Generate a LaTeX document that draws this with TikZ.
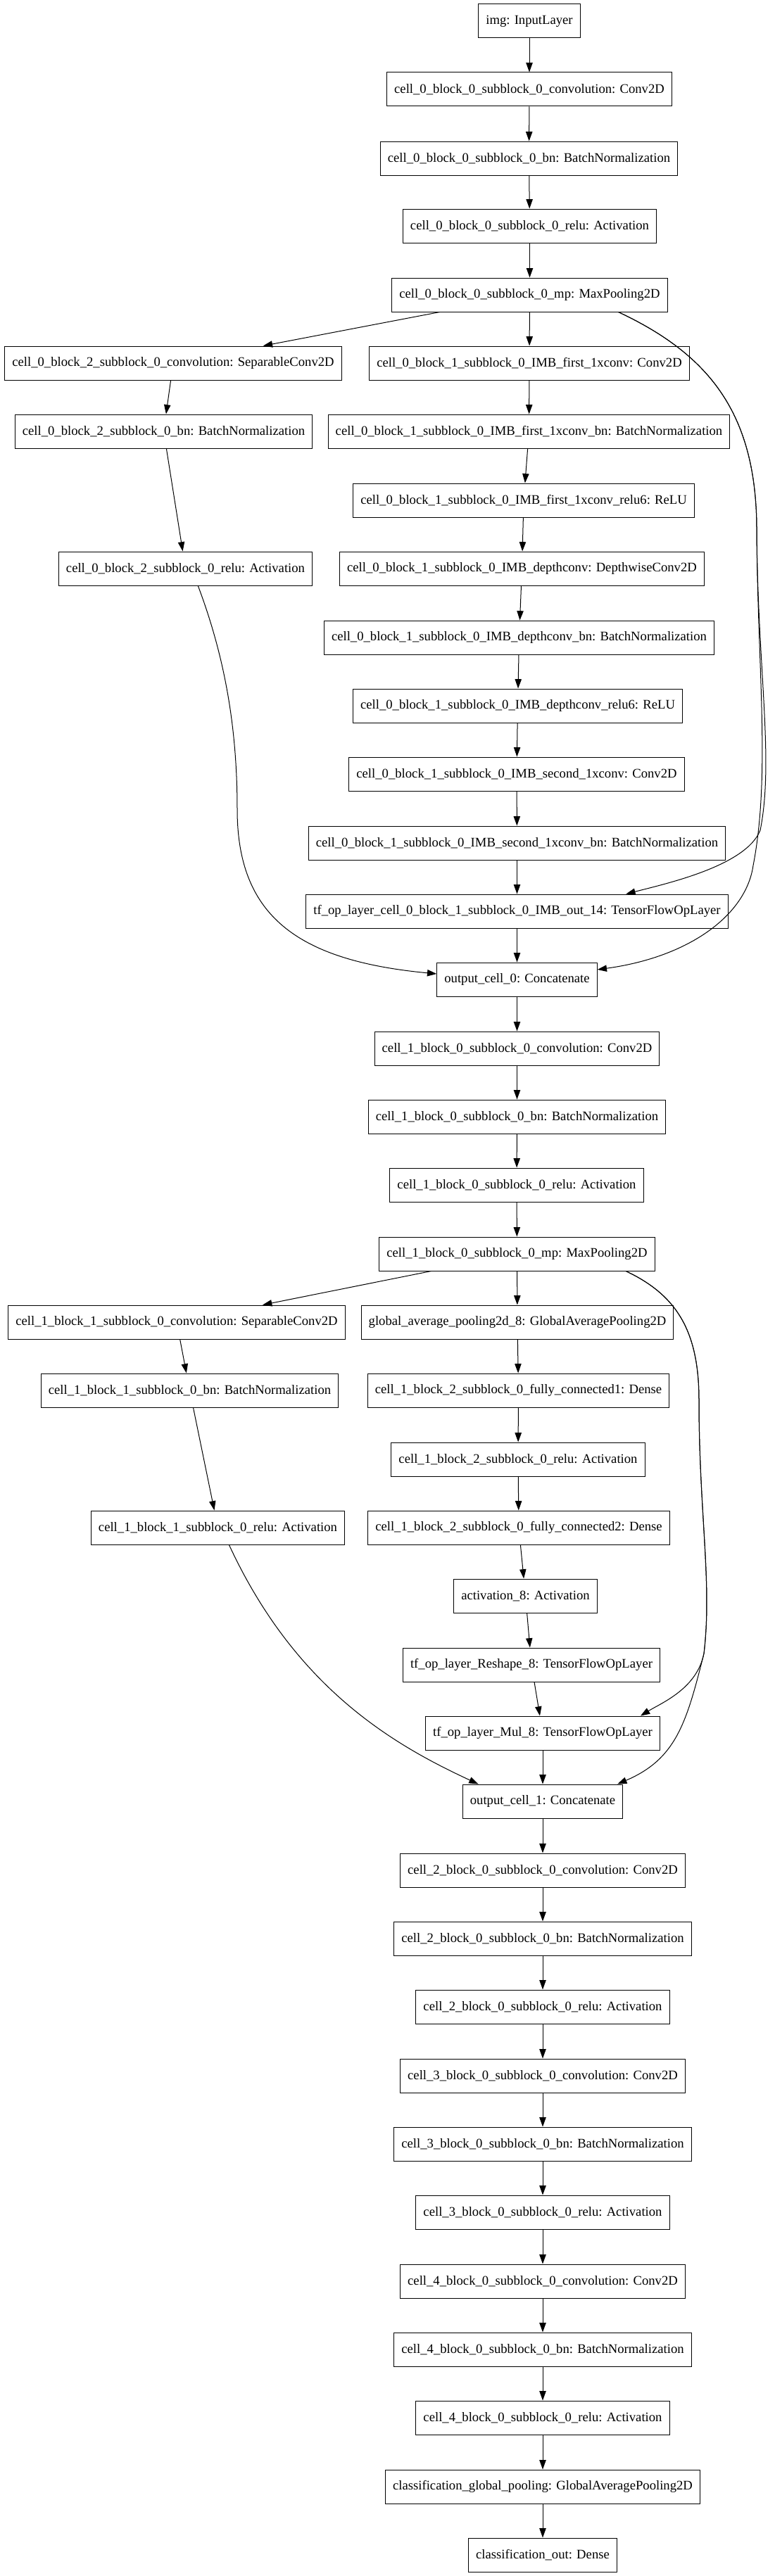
\documentclass[tikz,border=0pt]{standalone}
\usepackage{fontspec}
\setmainfont{Liberation Serif}
\usetikzlibrary{arrows.meta}
\tikzset{
	layer/.style={draw, rectangle, line width=0.75pt, minimum height=36pt, inner xsep=7.9pt, inner ysep=0pt, font=\fontsize{14}{16}\selectfont},
	link/.style={-{Triangle[length=10pt,width=7pt]}, line width=0.75pt},
}
\begin{document}
\begin{tikzpicture}[x=0.75pt, y=-0.75pt]
			\path[fill=white] (0,0) rectangle (1095,3661);
			
			% stem
			\node (img) at (752,30) [layer]{img: InputLayer};
			\node (c0conv) at (752,127) [layer]{cell\_0\_block\_0\_subblock\_0\_convolution: Conv2D};
			\node (c0bn) at (751.5,225) [layer]{cell\_0\_block\_0\_subblock\_0\_bn: BatchNormalization};
			\node (c0relu) at (752.5,321) [layer]{cell\_0\_block\_0\_subblock\_0\_relu: Activation};
			\node (c0mp) at (752.5,419) [layer]{cell\_0\_block\_0\_subblock\_0\_mp: MaxPooling2D};
			
			% cell 0, block 2
			\node (c0sep) at (246,516) [layer]{cell\_0\_block\_2\_subblock\_0\_convolution: SeparableConv2D};
			\node (c0sepbn) at (232.5,613) [layer]{cell\_0\_block\_2\_subblock\_0\_bn: BatchNormalization};
			\node (c0seprelu) at (263.5,808) [layer]{cell\_0\_block\_2\_subblock\_0\_relu: Activation};
			
			% cell 0, block 1
			\node (c0first) at (752,516) [layer]{cell\_0\_block\_1\_subblock\_0\_IMB\_first\_1xconv: Conv2D};
			\node (c0firstbn) at (751.5,613) [layer]{cell\_0\_block\_1\_subblock\_0\_IMB\_first\_1xconv\_bn: BatchNormalization};
			\node (c0firstrelu) at (744,711) [layer]{cell\_0\_block\_1\_subblock\_0\_IMB\_first\_1xconv\_relu6: ReLU};
			\node (c0dw) at (741.5,808) [layer]{cell\_0\_block\_1\_subblock\_0\_IMB\_depthconv: DepthwiseConv2D};
			\node (c0dwbn) at (737.5,906) [layer]{cell\_0\_block\_1\_subblock\_0\_IMB\_depthconv\_bn: BatchNormalization};
			\node (c0dwrelu) at (735.5,1003) [layer]{cell\_0\_block\_1\_subblock\_0\_IMB\_depthconv\_relu6: ReLU};
			\node (c0second) at (734,1100) [layer]{cell\_0\_block\_1\_subblock\_0\_IMB\_second\_1xconv: Conv2D};
			\node (c0secondbn) at (734.5,1198) [layer]{cell\_0\_block\_1\_subblock\_0\_IMB\_second\_1xconv\_bn: BatchNormalization};
			\node (c0imbout) at (734.5,1295) [layer]{tf\_op\_layer\_cell\_0\_block\_1\_subblock\_0\_IMB\_out\_14: TensorFlowOpLayer};
			\node (out0) at (734.5,1392) [layer]{output\_cell\_0: Concatenate};
			
			% cell 1
			\node (c1conv) at (734.5,1490) [layer]{cell\_1\_block\_0\_subblock\_0\_convolution: Conv2D};
			\node (c1bn) at (734.5,1587) [layer]{cell\_1\_block\_0\_subblock\_0\_bn: BatchNormalization};
			\node (c1relu) at (734,1684) [layer]{cell\_1\_block\_0\_subblock\_0\_relu: Activation};
			\node (c1mp) at (734.5,1782) [layer]{cell\_1\_block\_0\_subblock\_0\_mp: MaxPooling2D};
			\node (c1sep) at (251,1879) [layer]{cell\_1\_block\_1\_subblock\_0\_convolution: SeparableConv2D};
			\node (c1sepbn) at (269.5,1976) [layer]{cell\_1\_block\_1\_subblock\_0\_bn: BatchNormalization};
			\node (c1seprelu) at (309.5,2171) [layer]{cell\_1\_block\_1\_subblock\_0\_relu: Activation};
			\node (gap) at (735,1879) [layer]{global\_average\_pooling2d\_8: GlobalAveragePooling2D};
			\node (c1fc1) at (736.5,1976) [layer]{cell\_1\_block\_2\_subblock\_0\_fully\_connected1: Dense};
			\node (c1fcrelu) at (736,2074) [layer]{cell\_1\_block\_2\_subblock\_0\_relu: Activation};
			\node (c1fc2) at (737,2171) [layer]{cell\_1\_block\_2\_subblock\_0\_fully\_connected2: Dense};
			\node (act8) at (746.5,2268) [layer]{activation\_8: Activation};
			\node (reshape8) at (755,2366) [layer]{tf\_op\_layer\_Reshape\_8: TensorFlowOpLayer};
			\node (mul8) at (771,2463) [layer]{tf\_op\_layer\_Mul\_8: TensorFlowOpLayer};
			\node (out1) at (771,2560) [layer]{output\_cell\_1: Concatenate};
			
			% cells 2 to 4
			\foreach \c/\y in {2/2658, 3/2950, 4/3242}{
				\node (c\c conv) at (771,\y) [layer]{cell\_\c\_block\_0\_subblock\_0\_convolution: Conv2D};
				\node (c\c bn) at (771,\y+97) [layer]{cell\_\c\_block\_0\_subblock\_0\_bn: BatchNormalization};
				\node (c\c relu) at (771,\y+194) [layer]{cell\_\c\_block\_0\_subblock\_0\_relu: Activation};
				\draw[link] (c\c conv) -- (c\c bn);
				\draw[link] (c\c bn) -- (c\c relu);
			}
			\node (cgp) at (771,3534) [layer]{classification\_global\_pooling: GlobalAveragePooling2D};
			\node (cout) at (771,3631) [layer]{classification\_out: Dense};
			
			% straight connectors
			\draw[link] (img) -- (c0conv);
			\draw[link] (c0conv) -- (c0bn);
			\draw[link] (c0bn) -- (c0relu);
			\draw[link] (c0relu) -- (c0mp);
			\draw[link] (c0mp) -- (c0sep);
			\draw[link] (c0mp) -- (c0first);
			\draw[link] (c0sep) -- (c0sepbn);
			\draw[link] (c0sepbn) -- (c0seprelu);
			\draw[link] (c0first) -- (c0firstbn);
			\draw[link] (c0firstbn) -- (c0firstrelu);
			\draw[link] (c0firstrelu) -- (c0dw);
			\draw[link] (c0dw) -- (c0dwbn);
			\draw[link] (c0dwbn) -- (c0dwrelu);
			\draw[link] (c0dwrelu) -- (c0second);
			\draw[link] (c0second) -- (c0secondbn);
			\draw[link] (c0secondbn) -- (c0imbout);
			\draw[link] (c0imbout) -- (out0);
			\draw[link] (out0) -- (c1conv);
			\draw[link] (c1conv) -- (c1bn);
			\draw[link] (c1bn) -- (c1relu);
			\draw[link] (c1relu) -- (c1mp);
			\draw[link] (c1mp) -- (c1sep);
			\draw[link] (c1mp) -- (gap);
			\draw[link] (c1sep) -- (c1sepbn);
			\draw[link] (c1sepbn) -- (c1seprelu);
			\draw[link] (gap) -- (c1fc1);
			\draw[link] (c1fc1) -- (c1fcrelu);
			\draw[link] (c1fcrelu) -- (c1fc2);
			\draw[link] (c1fc2) -- (act8);
			\draw[link] (act8) -- (reshape8);
			\draw[link] (reshape8) -- (mul8);
			\draw[link] (mul8) -- (out1);
			\draw[link] (out1) -- (c2conv);
			\draw[link] (c2relu) -- (c3conv);
			\draw[link] (c3relu) -- (c4conv);
			\draw[link] (c4relu) -- (cgp);
			\draw[link] (cgp) -- (cout);
			
			% curved connectors
			\draw[link] (c0seprelu.-54) .. controls (318,930) and (337,1030) .. (337,1150) .. controls (337,1300) and (420,1365) .. (out0.176);
			\draw[link] (c0mp.-11) .. controls (1010,505) and (1074,590) .. (1075,750) .. controls (1076,950) and (1100,1080) .. (1080,1180) .. controls (1060,1230) and (950,1255) .. (c0imbout.9);
			\draw[link] (c0mp.-11) .. controls (1010,505) and (1074,590) .. (1075,750) .. controls (1076,950) and (1095,1100) .. (1070,1230) .. controls (1060,1300) and (980,1360) .. (out0.7);
			\draw[link] (c1seprelu.-57) .. controls (420,2400) and (560,2480) .. (out1.165);
			\draw[link] (c1mp.-9) .. controls (960,1840) and (993,1890) .. (993,1990) .. controls (993,2150) and (1012,2250) .. (1000,2350) .. controls (990,2400) and (940,2420) .. (mul8.10);
			\draw[link] (c1mp.-9) .. controls (960,1840) and (993,1890) .. (993,1990) .. controls (993,2150) and (1012,2250) .. (1000,2350) .. controls (975,2450) and (960,2500) .. (out1.13);
\end{tikzpicture}
\end{document}
